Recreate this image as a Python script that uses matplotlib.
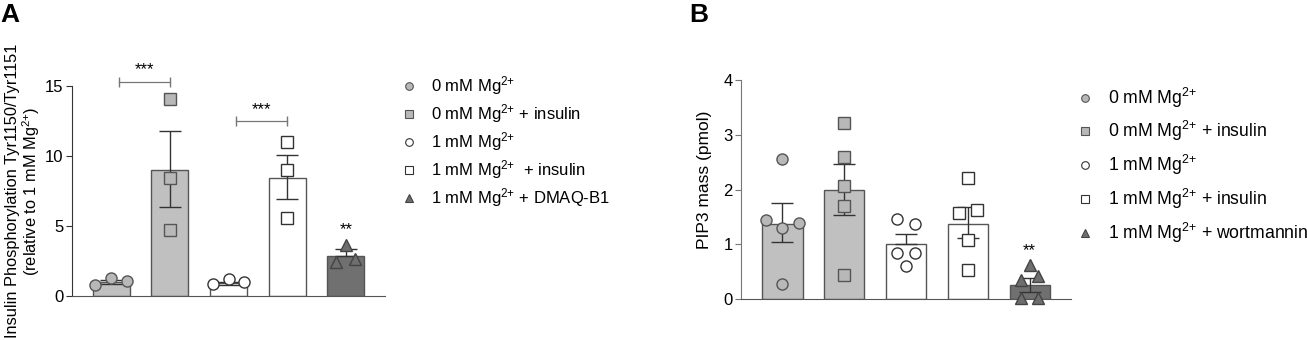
import numpy as np
import matplotlib.pyplot as plt
from matplotlib.lines import Line2D

plt.rcParams['font.family'] = ['Liberation Sans', 'DejaVu Sans']
plt.rcParams['font.size'] = 11
plt.rcParams['mathtext.fontset'] = 'custom'
plt.rcParams['mathtext.rm'] = 'Liberation Sans'
plt.rcParams['mathtext.it'] = 'Liberation Sans:italic'
plt.rcParams['mathtext.bf'] = 'Liberation Sans:bold'

MG = 'Mg$^{2{+}}$'

# ---- panel A data ----
a_means = [0.95, 9.0, 0.9, 8.42, 2.85]
a_err_lo = [0.12, 2.64, 0.1, 1.48, 0.0]
a_err_hi = [0.15, 2.8, 0.1, 1.66, 0.5]
a_points = [[0.77, 1.3, 1.02], [14.1, 8.4, 4.68], [0.84, 1.18, 0.96],
            [10.97, 9.0, 5.57], [2.38, 3.64, 2.6]]
a_jitter = [[-0.27, 0, 0.27], [0, 0, 0], [-0.27, 0, 0.27], [0, 0, 0], [-0.16, 0, 0.16]]
a_labels = ['0 mM ' + MG, '0 mM ' + MG + ' + insulin', '1 mM ' + MG,
            '1 mM ' + MG + '  + insulin', '1 mM ' + MG + ' + DMAQ-B1']

# ---- panel B data ----
b_means = [1.38, 1.99, 1.0, 1.38, 0.26]
b_err_lo = [0.34, 0.45, 0.0, 0.27, 0.12]
b_err_hi = [0.38, 0.48, 0.19, 0.3, 0.13]
b_points = [[2.55, 1.45, 1.3, 1.4, 0.28], [3.22, 2.59, 2.07, 1.71, 0.45],
            [1.47, 1.38, 0.85, 0.84, 0.6], [2.21, 1.58, 1.62, 1.08, 0.53],
            [0.62, 0.35, 0.42, 0.03, 0.03]]
b_jitter = [[0, -0.26, 0, 0.26, 0], [0, 0, 0, 0, 0], [-0.15, 0.14, -0.15, 0.14, 0],
            [0, -0.15, 0.15, 0, 0], [0, -0.14, 0.14, -0.14, 0.14]]
b_labels = ['0 mM ' + MG, '0 mM ' + MG + ' + insulin', '1 mM ' + MG,
            '1 mM ' + MG + ' + insulin', '1 mM ' + MG + ' + wortmannin']

bar_colors = ['#c0c0c0', '#c0c0c0', 'white', 'white', '#707070']
mk_face = ['#b8b8b8', '#b8b8b8', 'white', 'white', '#6e6e6e']
mk_edge = ['#555555', '#555555', '#333333', '#333333', '#444444']
markers = ['o', 's', 'o', 's', '^']


def draw_panel(ax, means, lo, hi, points, jitter, width):
    x = np.arange(len(means))
    ax.bar(x, means, width=width, color=bar_colors, edgecolor='#555555', linewidth=1.0, zorder=1)
    ax.errorbar(x, means, yerr=[lo, hi], fmt='none', ecolor='#333333', elinewidth=1.0,
                capsize=8, capthick=1.0, zorder=2)
    for i in range(len(means)):
        xs = x[i] + np.array(jitter[i])
        ax.plot(xs, points[i], linestyle='none', marker=markers[i], markersize=8,
                markerfacecolor=mk_face[i], markeredgecolor=mk_edge[i], markeredgewidth=1.0,
                zorder=3, clip_on=False)
    for s in ['top', 'right']:
        ax.spines[s].set_visible(False)
    ax.spines['bottom'].set_color('#555555')
    ax.set_xticks([])
    ax.tick_params(axis='y', length=4, width=0.8, labelsize=12, pad=2)
    ax.set_xlim(-0.67, 4.67)


def legend_handles(labels):
    h = []
    for i in range(len(labels)):
        h.append(Line2D([], [], linestyle='none', marker=markers[i], markersize=5.5,
                        markerfacecolor=mk_face[i], markeredgecolor=mk_edge[i],
                        markeredgewidth=0.8, label=labels[i]))
    return h


fig = plt.figure(figsize=(13.07, 3.4), dpi=100)

# panel A
axA = fig.add_axes([0.0551, 0.1303, 0.2395, 0.6168])
draw_panel(axA, a_means, a_err_lo, a_err_hi, a_points, a_jitter, 0.63)
axA.spines['left'].set_color('#333333')
axA.tick_params(axis='y', color='#333333')
axA.set_ylim(0, 15)
axA.set_yticks([0, 5, 10, 15])
axA.set_ylabel('Insulin Phosphorylation Tyr1150/Tyr1151\n(relative to 1 mM ' + MG + ')',
               fontsize=11.8, linespacing=1.0)
axA.yaxis.set_label_coords(-0.096, 0.5)

# significance brackets A
axA.plot([0.13, 1.0], [15.3, 15.3], color='#777777', lw=0.9, marker='|', markersize=7, clip_on=False)
axA.text(0.57, 15.6, '***', ha='center', va='bottom', fontsize=12, clip_on=False)
axA.plot([2.13, 3.0], [12.5, 12.5], color='#777777', lw=0.9, marker='|', markersize=7, clip_on=False)
axA.text(2.57, 12.8, '***', ha='center', va='bottom', fontsize=12)
axA.text(4, 4.2, '**', ha='center', va='bottom', fontsize=12)

legA = fig.legend(handles=legend_handles(a_labels), loc='upper left',
                  bbox_to_anchor=(0.2954, 0.825), frameon=False, fontsize=12,
                  handlelength=1.0, handletextpad=0.8, labelspacing=0.3)

# panel B
axB = fig.add_axes([0.567, 0.1197, 0.2525, 0.645])
draw_panel(axB, b_means, b_err_lo, b_err_hi, b_points, b_jitter, 0.65)
axB.spines['left'].set_color('#777777')
axB.tick_params(axis='y', color='#777777')
axB.set_ylim(0, 4)
axB.set_yticks([0, 1, 2, 3, 4])
axB.set_ylabel('PIP3 mass (pmol)', fontsize=12.5)
axB.yaxis.set_label_coords(-0.088, 0.545)
axB.text(4, 0.75, '**', ha='center', va='bottom', fontsize=12)

legB = fig.legend(handles=legend_handles(b_labels), loc='upper left',
                  bbox_to_anchor=(0.811, 0.795), frameon=False, fontsize=12.7,
                  handlelength=1.0, handletextpad=0.8, labelspacing=0.55)

fig.text(0.0, 0.99, 'A', fontsize=19, fontweight='bold', va='top', ha='left')
fig.text(0.527, 0.99, 'B', fontsize=19, fontweight='bold', va='top', ha='left')

fig.savefig('out.png', dpi=100)
